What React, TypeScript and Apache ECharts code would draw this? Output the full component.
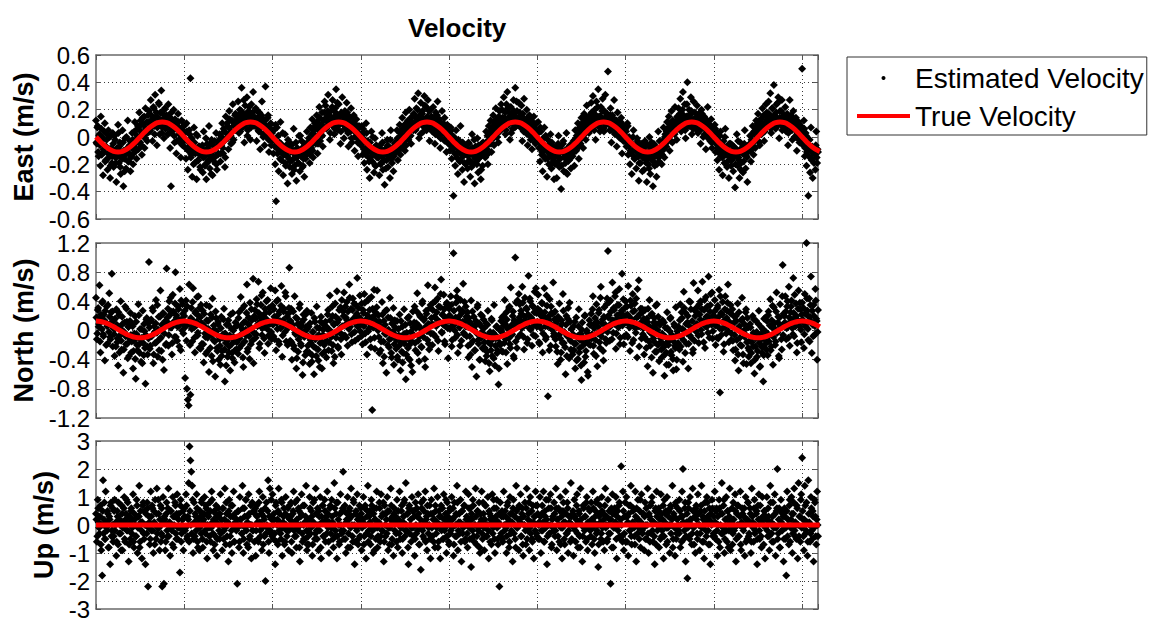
import React, { useEffect, useRef } from "react";
import * as echarts from "echarts";

// ---- sampling / axes ----
// Estimated velocity is output at 2 Hz: stream A at whole seconds, stream B at half seconds.
const SAMPLE_STEP_S = 1;
const STREAM_B_OFFSET_S = 0.5;
const TRUE_STEP_S = 5; // true velocity sample spacing (s)
const X_MAX = 818;
const X_TICK = 100;

const TITLE = "Velocity";
const PANEL_NAMES = ["East (m/s)", "North (m/s)", "Up (m/s)"];
const Y_MIN = [-0.6, -1.2, -3];
const Y_MAX = [0.6, 1.2, 3];
const Y_STEP = [0.2, 0.4, 1];
const LEGEND_EST = "Estimated Velocity";
const LEGEND_TRUE = "True Velocity";

// ---- estimated velocities, stream A ----
const EAST_EST_A = [
  0.12, -0.05, 0.08, -0.14, 0.02, -0.21, 0.06, 0.0, -0.28, -0.11, 0.10, -0.17, -0.02, -0.24, 0.05, -0.09, -0.30, -0.12, -0.19, 0.03,
  -0.22, 0.01, -0.15, -0.33, -0.08, 0.09, -0.19, -0.04, -0.27, -0.12, 0.05, -0.36, -0.16, -0.01, -0.23, -0.10, 0.12, -0.18, -0.06, -0.25,
  -0.14, 0.03, -0.20, -0.07, 0.11, -0.02, -0.16, 0.06, -0.09, 0.18, -0.04, 0.09, -0.13, 0.14, 0.01, -0.08, 0.21, 0.05, -0.03, 0.16,
  0.19, 0.04, 0.27, 0.12, -0.03, 0.22, 0.08, 0.31, 0.15, -0.06, 0.10, 0.25, 0.02, 0.18, 0.34, 0.07, 0.13, -0.01, 0.21, 0.09,
  0.16, 0.02, 0.24, 0.09, -0.08, -0.36, 0.13, 0.05, 0.20, -0.04, 0.11, -0.12, 0.07, 0.17, -0.02, 0.03, -0.15, 0.12, -0.06, 0.08,
  -0.03, 0.09, -0.16, 0.04, -0.24, -0.08, 0.02, 0.43, -0.13, -0.29, -0.05, 0.07, -0.19, -0.10, -0.31, 0.01, -0.17, -0.07, -0.22, -0.12,
  -0.09, -0.26, 0.04, -0.14, -0.20, -0.31, -0.05, -0.17, 0.08, -0.23, -0.11, -0.02, -0.28, -0.15, -0.07, -0.19, 0.03, -0.24, -0.13, -0.04,
  0.02, -0.18, -0.06, 0.10, -0.12, 0.04, -0.22, 0.15, -0.01, 0.08, -0.09, 0.19, 0.03, -0.05, 0.12, 0.24, -0.02, 0.09, 0.17, 0.06,
  0.14, 0.26, 0.03, 0.20, 0.11, 0.36, 0.07, 0.17, -0.04, 0.23, 0.13, 0.29, 0.05, 0.19, 0.10, -0.02, 0.24, 0.15, 0.33, 0.08,
  0.09, 0.21, -0.03, 0.14, 0.05, 0.18, -0.09, 0.11, 0.26, 0.02, 0.13, -0.06, 0.37, 0.08, 0.0, 0.16, -0.11, 0.06, 0.10, -0.03,
  0.05, -0.12, -0.02, -0.20, -0.47, 0.07, -0.09, -0.25, -0.04, 0.11, -0.17, -0.07, -0.28, -0.13, 0.02, -0.21, -0.10, -0.34, -0.06, -0.16,
  -0.18, -0.05, -0.27, -0.11, 0.06, -0.21, -0.14, -0.32, -0.08, -0.19, 0.01, -0.25, -0.12, -0.03, -0.22, -0.16, -0.29, -0.06, -0.13, 0.04,
  -0.11, -0.01, -0.19, 0.07, -0.08, 0.13, -0.15, 0.02, 0.10, -0.05, 0.16, -0.12, 0.05, 0.22, -0.03, 0.08, 0.18, -0.07, 0.12, 0.26,
  0.23, 0.06, 0.15, 0.31, 0.11, -0.02, 0.19, 0.09, 0.27, 0.14, 0.02, 0.21, 0.35, 0.12, 0.05, 0.24, 0.16, -0.05, 0.18, 0.29,
  0.12, -0.01, 0.19, 0.07, 0.25, 0.10, -0.07, 0.15, 0.04, 0.21, -0.04, 0.09, 0.16, -0.10, 0.06, 0.13, 0.0, -0.14, 0.08, 0.02,
  -0.06, 0.08, -0.13, 0.03, -0.19, -0.09, 0.10, -0.24, -0.03, -0.15, -0.30, -0.08, 0.04, -0.18, -0.11, -0.26, -0.01, -0.21, -0.14, -0.09,
  -0.15, -0.28, -0.06, -0.19, 0.03, -0.24, -0.11, -0.35, -0.09, -0.17, -0.02, -0.22, -0.13, -0.30, 0.05, -0.16, -0.08, -0.25, -0.12, -0.04,
  -0.09, 0.05, -0.17, -0.04, 0.09, -0.13, 0.01, 0.14, -0.07, 0.06, -0.10, 0.18, 0.03, 0.11, -0.02, 0.20, 0.08, -0.05, 0.15, 0.10,
  0.17, 0.28, 0.05, 0.21, 0.12, 0.32, -0.01, 0.16, 0.25, 0.09, 0.19, 0.04, 0.30, 0.13, 0.22, 0.07, 0.27, 0.11, -0.03, 0.20,
  0.15, 0.04, 0.22, 0.11, -0.05, 0.18, 0.08, 0.26, 0.01, 0.13, -0.08, 0.10, 0.19, 0.03, -0.02, 0.14, 0.06, -0.11, 0.09, -0.04,
  0.03, -0.10, 0.07, -0.16, 0.01, -0.43, -0.07, -0.21, 0.05, -0.12, -0.27, -0.04, -0.18, 0.08, -0.09, -0.24, -0.14, -0.33, -0.06, -0.20,
  -0.12, -0.23, -0.04, -0.17, -0.29, -0.09, 0.02, -0.20, -0.14, -0.34, -0.07, -0.18, -0.01, -0.26, -0.11, -0.15, -0.31, -0.05, -0.21, -0.10,
  -0.06, -0.15, 0.04, -0.09, -0.20, 0.08, -0.02, 0.12, -0.11, 0.03, 0.16, -0.06, 0.09, 0.21, 0.0, 0.13, -0.04, 0.19, 0.07, 0.24,
  0.20, 0.09, 0.29, 0.14, 0.02, 0.24, 0.33, 0.10, 0.18, -0.02, 0.22, 0.13, 0.06, 0.27, 0.16, 0.36, 0.08, 0.19, 0.12, 0.25,
  0.18, 0.07, 0.23, -0.03, 0.14, 0.28, 0.05, 0.11, 0.20, -0.06, 0.09, 0.16, 0.01, 0.12, -0.09, 0.07, 0.15, 0.0, -0.05, 0.10,
  -0.01, 0.11, -0.08, -0.18, 0.04, -0.13, -0.25, -0.05, 0.07, -0.16, -0.09, -0.29, -0.02, -0.20, -0.12, 0.02, -0.23, -0.15, -0.07, -0.31,
  -0.20, -0.08, -0.30, -0.13, 0.01, -0.22, -0.16, -0.38, -0.10, -0.05, -0.25, -0.14, -0.19, 0.03, -0.27, -0.11, -0.17, -0.06, -0.23, -0.13,
  -0.14, -0.03, -0.21, 0.05, -0.10, -0.01, 0.10, -0.16, 0.06, -0.05, 0.14, 0.02, -0.08, 0.17, 0.08, -0.02, 0.23, 0.11, 0.04, 0.15,
  0.16, 0.25, 0.07, 0.30, 0.13, 0.20, -0.02, 0.26, 0.10, 0.35, 0.15, 0.04, 0.22, 0.12, 0.28, 0.06, 0.19, 0.31, 0.09, 0.17,
  0.48, 0.13, 0.05, 0.21, -0.04, 0.16, 0.09, 0.27, 0.02, 0.12, -0.07, 0.18, 0.06, 0.10, -0.01, 0.14, -0.12, 0.04, 0.08, -0.03,
  0.06, -0.07, 0.10, -0.13, 0.0, -0.20, -0.04, -0.27, -0.10, 0.05, -0.16, -0.08, -0.23, -0.01, -0.14, -0.32, -0.06, -0.19, -0.11, -0.25,
  -0.10, -0.24, -0.03, -0.17, -0.33, -0.12, -0.20, 0.0, -0.27, -0.08, -0.15, -0.36, -0.05, -0.21, -0.11, -0.29, -0.14, 0.04, -0.18, -0.09,
  -0.12, -0.20, -0.03, 0.07, -0.15, 0.02, -0.07, 0.11, -0.01, 0.15, -0.10, 0.06, 0.19, -0.04, 0.10, 0.03, 0.22, 0.08, -0.02, 0.14,
  0.21, 0.10, 0.28, 0.04, 0.17, 0.33, 0.12, 0.24, -0.01, 0.15, 0.40, 0.08, 0.20, 0.13, 0.29, 0.02, 0.18, 0.26, 0.11, 0.06,
  0.14, 0.23, 0.03, 0.17, 0.08, -0.05, 0.20, 0.11, 0.0, 0.15, 0.06, -0.09, 0.12, 0.22, 0.01, 0.09, -0.03, 0.13, -0.08, 0.05,
  -0.02, 0.09, -0.11, 0.04, -0.17, -0.06, -0.24, 0.01, -0.14, -0.08, -0.28, -0.03, -0.19, 0.06, -0.12, -0.22, -0.09, -0.30, -0.15, -0.05,
  -0.17, -0.06, -0.25, -0.13, -0.37, -0.09, 0.02, -0.21, -0.15, -0.30, -0.04, -0.19, -0.11, -0.26, -0.08, 0.05, -0.23, -0.14, -0.33, -0.07,
  -0.10, 0.01, -0.18, -0.05, 0.08, -0.13, 0.04, -0.08, 0.12, -0.02, 0.17, 0.06, -0.06, 0.13, 0.02, 0.21, 0.09, -0.03, 0.16, 0.24,
  0.18, 0.08, 0.26, 0.14, 0.32, 0.03, 0.21, 0.11, 0.38, 0.16, 0.06, 0.24, 0.13, 0.29, -0.01, 0.19, 0.10, 0.27, 0.15, 0.07,
  0.12, 0.22, 0.04, 0.17, -0.06, 0.10, 0.27, 0.07, 0.15, -0.02, 0.19, 0.09, 0.0, 0.14, -0.10, 0.05, 0.11, -0.04, 0.08, 0.01,
  0.50, -0.06, 0.12, -0.14, 0.03, -0.21, -0.09, -0.43, -0.02, -0.26, 0.07, -0.17, -0.30, -0.08, -0.12, -0.24, 0.04, -0.19, -0.11, -0.07,
];

const EAST_EST_B = [
  -0.04, 0.07, -0.11, 0.01, -0.06, 0.15, -0.13, -0.02, -0.09, 0.04, -0.18, -0.07, 0.02, -0.12, -0.15, 0.0, -0.21, -0.08, -0.14, -0.05,
  -0.13, -0.02, -0.19, -0.09, -0.14, 0.03, -0.07, -0.22, -0.11, -0.16, -0.04, -0.10, -0.25, -0.13, 0.0, -0.08, -0.18, -0.12, -0.03, -0.15,
  -0.08, -0.02, -0.12, 0.04, -0.05, -0.10, 0.01, 0.08, -0.03, 0.05, 0.12, -0.06, 0.02, 0.09, 0.15, -0.01, 0.06, 0.11, 0.03, 0.10,
  0.11, 0.05, 0.16, 0.08, 0.13, 0.21, 0.02, 0.10, 0.18, 0.07, 0.14, 0.24, 0.09, 0.12, 0.03, 0.17, 0.11, 0.20, 0.06, 0.15,
  0.12, 0.07, 0.15, 0.03, 0.10, 0.18, 0.05, 0.09, 0.01, 0.13, 0.06, -0.03, 0.08, 0.11, 0.02, 0.05, -0.05, 0.07, 0.0, 0.04,
  0.03, -0.08, 0.10, -0.03, -0.10, 0.05, -0.06, -0.15, -0.01, -0.09, -0.20, -0.04, -0.12, 0.02, -0.10, -0.17, -0.07, -0.13, -0.24, -0.09,
  -0.06, -0.15, -0.10, -0.21, -0.01, -0.12, -0.08, -0.18, -0.13, -0.05, -0.27, -0.11, -0.16, -0.09, -0.03, -0.14, -0.20, -0.07, -0.12, -0.02,
  -0.05, -0.12, 0.0, -0.08, 0.06, -0.03, -0.15, 0.03, 0.10, -0.01, 0.07, 0.13, 0.01, 0.04, -0.04, 0.11, 0.08, 0.16, 0.05, 0.12,
  0.09, 0.16, 0.12, 0.04, 0.19, 0.10, 0.14, 0.27, 0.08, 0.13, 0.17, 0.01, 0.11, 0.22, 0.15, 0.07, 0.12, 0.18, 0.09, 0.14,
  0.14, 0.08, 0.19, 0.11, 0.04, 0.13, 0.07, 0.16, 0.10, 0.0, 0.09, 0.12, 0.03, 0.07, 0.14, -0.02, 0.05, 0.09, -0.06, 0.03,
  -0.02, 0.05, -0.07, 0.09, -0.04, -0.12, 0.01, -0.08, -0.16, -0.05, -0.11, 0.03, -0.13, -0.09, -0.19, -0.06, -0.14, -0.02, -0.10, -0.22,
  -0.11, -0.06, -0.17, -0.10, -0.24, -0.13, -0.04, -0.15, -0.09, -0.19, -0.12, 0.01, -0.14, -0.08, -0.21, -0.11, -0.05, -0.16, -0.10, -0.07,
  -0.09, -0.03, -0.13, -0.06, 0.02, -0.10, 0.05, -0.02, 0.08, 0.0, 0.11, -0.05, 0.06, 0.14, 0.03, 0.09, 0.01, 0.12, 0.18, 0.07,
  0.13, 0.07, 0.19, 0.10, 0.16, 0.03, 0.12, 0.22, 0.09, 0.14, 0.06, 0.18, 0.11, 0.25, 0.08, 0.15, 0.12, 0.04, 0.17, 0.10,
  0.09, 0.15, 0.06, 0.12, 0.18, 0.03, 0.10, 0.07, 0.14, -0.01, 0.08, 0.11, 0.04, 0.0, 0.09, 0.06, -0.04, 0.03, 0.07, -0.02,
  0.01, -0.05, 0.06, -0.09, -0.02, -0.13, 0.03, -0.07, -0.11, -0.18, -0.04, -0.10, -0.14, 0.0, -0.08, -0.12, -0.21, -0.06, -0.15, -0.10,
  -0.12, -0.08, -0.20, -0.14, -0.04, -0.11, -0.17, -0.09, -0.23, -0.13, -0.06, -0.16, -0.10, -0.02, -0.12, -0.19, -0.08, -0.14, -0.05, -0.11,
  -0.07, -0.01, -0.10, -0.04, 0.03, -0.08, 0.0, 0.06, -0.03, 0.09, 0.02, -0.06, 0.07, 0.12, 0.04, 0.10, 0.01, 0.14, 0.08, 0.05,
  0.10, 0.15, 0.06, 0.12, 0.20, 0.09, 0.14, 0.02, 0.11, 0.17, 0.08, 0.13, 0.23, 0.10, 0.05, 0.15, 0.12, 0.19, 0.07, 0.13,
  0.11, 0.06, 0.14, 0.09, 0.02, 0.12, 0.16, 0.05, 0.08, 0.11, -0.01, 0.07, 0.03, 0.10, 0.05, -0.03, 0.06, 0.01, 0.04, -0.05,
  0.02, -0.06, 0.05, -0.03, -0.09, 0.0, -0.12, -0.05, -0.15, -0.08, -0.02, -0.11, -0.17, -0.07, -0.13, -0.04, -0.10, -0.19, -0.12, -0.08,
  -0.09, -0.14, -0.05, -0.18, -0.11, -0.22, -0.08, -0.13, -0.02, -0.16, -0.10, -0.20, -0.12, -0.06, -0.15, -0.09, -0.24, -0.11, -0.04, -0.13,
  -0.10, -0.04, -0.07, 0.01, -0.12, -0.02, 0.04, -0.05, 0.07, 0.02, -0.01, 0.10, 0.05, 0.13, 0.0, 0.08, 0.15, 0.04, 0.11, 0.09,
  0.14, 0.08, 0.12, 0.18, 0.05, 0.11, 0.21, 0.09, 0.15, 0.13, 0.03, 0.17, 0.10, 0.19, 0.07, 0.12, 0.26, 0.09, 0.14, 0.11,
  0.10, 0.14, 0.07, 0.17, 0.04, 0.11, 0.08, 0.13, 0.02, 0.09, 0.12, 0.05, -0.02, 0.08, 0.04, 0.10, 0.01, -0.04, 0.06, 0.02,
  -0.03, 0.04, -0.08, 0.07, -0.05, -0.11, -0.01, -0.14, -0.07, 0.01, -0.10, -0.16, -0.06, -0.12, -0.09, -0.20, -0.04, -0.13, -0.17, -0.08,
  -0.14, -0.09, -0.19, -0.05, -0.12, -0.16, -0.07, -0.21, -0.11, -0.03, -0.15, -0.10, -0.26, -0.13, -0.08, -0.17, -0.11, -0.06, -0.14, -0.09,
  -0.06, -0.11, -0.02, -0.08, 0.01, -0.04, 0.06, -0.07, 0.03, 0.09, -0.01, 0.05, 0.11, 0.02, 0.08, 0.14, 0.06, 0.10, 0.03, 0.13,
  0.12, 0.18, 0.08, 0.14, 0.05, 0.11, 0.16, 0.09, 0.22, 0.13, 0.07, 0.15, 0.10, 0.19, 0.12, 0.04, 0.14, 0.09, 0.17, 0.11,
  0.13, 0.09, 0.16, 0.05, 0.11, 0.14, 0.07, 0.10, 0.03, 0.12, 0.06, 0.09, 0.0, 0.08, 0.11, 0.02, 0.06, -0.03, 0.05, 0.01,
  0.04, -0.03, 0.08, -0.07, -0.01, -0.10, -0.05, -0.13, 0.0, -0.09, -0.16, -0.06, -0.11, -0.03, -0.14, -0.19, -0.08, -0.12, -0.05, -0.15,
  -0.08, -0.15, -0.11, -0.19, -0.06, -0.13, -0.23, -0.10, -0.16, -0.04, -0.12, -0.18, -0.09, -0.14, -0.07, -0.20, -0.11, -0.15, -0.03, -0.10,
  -0.07, -0.13, -0.03, -0.09, 0.0, -0.05, 0.04, -0.02, 0.07, 0.01, 0.10, -0.03, 0.05, 0.12, 0.08, 0.02, 0.11, 0.06, 0.15, 0.09,
  0.11, 0.17, 0.07, 0.13, 0.20, 0.09, 0.15, 0.05, 0.12, 0.24, 0.10, 0.16, 0.08, 0.14, 0.19, 0.11, 0.06, 0.13, 0.18, 0.09,
  0.12, 0.08, 0.15, 0.10, 0.05, 0.13, 0.17, 0.07, 0.11, 0.02, 0.09, 0.05, 0.12, -0.01, 0.06, 0.03, 0.08, -0.04, 0.04, 0.01,
  -0.01, 0.06, -0.05, 0.02, -0.08, -0.03, -0.12, 0.04, -0.09, -0.15, -0.06, -0.11, 0.0, -0.13, -0.08, -0.18, -0.10, -0.05, -0.14, -0.21,
  -0.10, -0.16, -0.07, -0.13, -0.20, -0.09, -0.14, -0.03, -0.17, -0.11, -0.24, -0.08, -0.12, -0.18, -0.05, -0.13, -0.09, -0.15, -0.11, -0.06,
  -0.05, -0.10, -0.02, 0.02, -0.07, 0.04, -0.03, 0.07, 0.0, 0.10, 0.03, -0.04, 0.08, 0.13, 0.05, 0.09, 0.16, 0.04, 0.11, 0.07,
  0.13, 0.08, 0.17, 0.11, 0.06, 0.15, 0.21, 0.10, 0.14, 0.07, 0.18, 0.12, 0.25, 0.09, 0.14, 0.11, 0.19, 0.05, 0.13, 0.16,
  0.10, 0.15, 0.07, 0.13, 0.03, 0.11, 0.08, 0.16, 0.05, 0.09, 0.12, 0.0, 0.07, 0.10, 0.03, 0.06, -0.02, 0.04, 0.08, -0.01,
  0.02, -0.04, 0.06, -0.08, 0.01, -0.11, -0.05, -0.14, -0.02, -0.09, -0.16, -0.07, -0.12, -0.19, -0.10, -0.06, -0.15, -0.09, -0.13, -0.08,
];

const NORTH_EST_A = [
  0.45, -0.12, 0.28, 0.05, 0.62, -0.30, 0.17, 0.38, -0.05, 0.22, -0.41, 0.11, 0.33, -0.18, 0.08, 0.51, -0.09, 0.25, 0.78, -0.22,
  0.14, -0.35, 0.03, 0.29, -0.16, -0.48, 0.21, -0.07, 0.40, -0.26, 0.09, -0.58, -0.02, 0.33, -0.19, 0.12, -0.38, 0.05, -0.11, 0.24,
  -0.30, 0.08, -0.52, -0.14, 0.20, -0.66, -0.05, -0.27, 0.36, -0.19, 0.02, -0.43, -0.10, 0.27, -0.34, -0.01, -0.73, 0.15, -0.22, 0.10,
  0.94, -0.25, 0.13, -0.08, 0.31, -0.45, 0.06, -0.17, 0.42, -0.03, -0.36, 0.19, -0.12, 0.55, -0.28, 0.01, 0.24, -0.54, 0.09, -0.20,
  0.85, 0.18, -0.21, 0.40, 0.04, 0.26, -0.33, 0.49, 0.12, -0.09, 0.80, 0.21, -0.14, 0.33, 0.07, 0.57, -0.27, 0.15, 0.36, -0.04,
  0.20, -0.65, 0.41, -0.80, -0.95, -1.03, 0.09, -0.88, 0.31, -0.15, 0.58, 0.04, -0.30, 0.26, 0.12, -0.07, 0.47, -0.24, 0.18, 0.35,
  -0.18, 0.27, -0.44, 0.06, -0.09, 0.35, -0.29, 0.13, -0.57, -0.02, 0.22, -0.35, 0.44, -0.13, 0.01, -0.63, 0.17, -0.24, 0.09, -0.40,
  -0.12, -0.47, 0.19, -0.28, -0.05, 0.30, -0.70, -0.17, 0.08, -0.36, 0.14, -0.22, -0.55, 0.03, -0.31, 0.24, -0.09, -0.44, 0.11, -0.26,
  0.07, -0.32, 0.25, -0.11, 0.46, -0.20, 0.01, -0.50, 0.34, 0.12, -0.07, 0.63, -0.25, 0.18, -0.39, 0.05, 0.29, -0.14, 0.71, -0.03,
  0.28, -0.10, 0.43, 0.06, 0.67, -0.24, 0.19, 0.35, -0.06, 0.52, 0.13, -0.31, 0.24, 0.40, 0.02, -0.18, 0.31, 0.09, 0.58, -0.12,
  0.34, -0.08, 0.19, 0.55, -0.27, 0.10, 0.42, -0.15, 0.26, 0.03, 0.61, -0.36, 0.14, 0.30, -0.02, 0.47, 0.07, -0.20, 0.23, 0.86,
  -0.14, 0.30, -0.40, 0.08, -0.21, 0.47, -0.05, -0.52, 0.16, -0.29, 0.01, 0.36, -0.18, 0.11, -0.61, 0.22, -0.09, -0.34, 0.05, 0.27,
  -0.21, 0.05, -0.46, -0.13, 0.24, -0.34, -0.02, -0.60, 0.12, -0.24, 0.33, -0.08, -0.41, 0.03, -0.17, 0.19, -0.52, -0.06, 0.08, -0.29,
  0.12, -0.37, 0.02, 0.28, -0.16, 0.48, -0.05, -0.28, 0.20, -0.45, 0.09, 0.37, -0.10, 0.54, -0.22, 0.15, -0.03, 0.32, -0.33, 0.06,
  0.26, 0.52, -0.07, 0.18, 0.39, -0.21, 0.10, 0.63, 0.05, 0.30, -0.16, 0.44, 0.13, -0.02, 0.35, 0.21, 0.72, -0.11, 0.16, 0.48,
  0.09, 0.37, -0.19, 0.24, 0.50, -0.04, 0.15, -0.33, 0.41, 0.02, 0.28, -0.12, 0.46, -1.09, 0.19, 0.56, -0.25, 0.11, 0.32, 0.07,
  0.21, -0.31, 0.06, -0.15, 0.39, -0.45, 0.13, -0.04, 0.27, -0.58, 0.0, 0.18, -0.23, 0.45, -0.11, -0.37, 0.09, 0.31, -0.19, 0.04,
  -0.25, 0.13, -0.40, -0.07, 0.22, -0.55, -0.16, 0.05, -0.31, 0.29, -0.12, -0.67, -0.03, 0.17, -0.38, -0.20, 0.10, -0.48, -0.09, 0.26,
  -0.06, 0.33, -0.27, 0.10, 0.51, -0.14, -0.42, 0.21, 0.02, -0.23, 0.40, -0.09, 0.16, -0.50, 0.27, -0.01, 0.62, -0.18, 0.08, 0.35,
  0.17, -0.20, 0.38, 0.08, 0.59, -0.09, 0.25, 0.44, -0.28, 0.12, 0.32, 0.70, -0.03, 0.21, 0.49, -0.15, 0.06, 0.36, 0.14, -0.38,
  0.30, 0.02, 0.47, -0.22, 0.16, 1.06, 0.08, -0.10, 0.38, 0.55, -0.31, 0.19, 0.04, 0.42, -0.14, 0.27, 0.64, -0.05, 0.13, 0.33,
  -0.08, 0.25, -0.37, 0.12, -0.19, 0.41, -0.50, 0.03, 0.19, -0.27, 0.07, -0.63, 0.32, -0.13, 0.10, -0.40, 0.22, -0.02, -0.24, 0.15,
  -0.16, -0.42, 0.10, -0.29, 0.27, -0.06, -0.56, -0.19, 0.16, -0.35, -0.03, 0.35, -0.48, -0.11, 0.06, -0.27, -0.74, 0.01, -0.20, 0.13,
  0.18, -0.29, 0.07, 0.42, -0.12, 0.25, -0.46, 0.03, 0.31, -0.19, 0.59, -0.06, 0.20, -0.35, 0.14, 1.00, 0.38, -0.24, 0.10, 0.50,
  0.36, -0.05, 0.23, 0.60, 0.09, -0.26, 0.45, 0.14, 0.29, -0.12, 0.75, 0.03, 0.40, 0.18, -0.21, 0.33, 0.07, 0.53, -0.08, 0.24,
  0.12, 0.49, -0.16, 0.27, 0.03, 0.38, -0.30, 0.20, 0.58, 0.06, -0.09, 0.34, -0.90, 0.15, 0.43, -0.21, 0.24, 0.01, 0.66, -0.04,
  0.26, -0.22, 0.04, -0.46, 0.15, 0.37, -0.11, -0.30, 0.09, 0.50, -0.17, -0.03, -0.60, 0.20, -0.08, 0.31, -0.38, 0.12, -0.26, 0.02,
  -0.33, 0.06, -0.18, -0.52, 0.18, -0.09, -0.39, 0.29, -0.24, -0.04, -0.68, 0.11, -0.15, -0.44, 0.21, -0.28, 0.0, -0.57, -0.12, 0.14,
  -0.20, 0.23, -0.05, 0.47, -0.32, 0.10, -0.13, 0.36, -0.49, 0.05, 0.28, -0.24, 0.60, -0.02, 0.15, -0.41, 0.32, 0.08, -0.17, 0.44,
  1.09, 0.21, -0.14, 0.41, 0.10, 0.66, -0.03, 0.28, 0.47, -0.25, 0.16, 0.35, 0.04, 0.57, -0.10, 0.24, 0.78, 0.12, -0.19, 0.31,
  0.40, -0.06, 0.22, 0.61, 0.08, -0.28, 0.34, 0.15, 0.50, -0.13, 0.27, 0.03, 0.44, -0.37, 0.19, 0.69, 0.06, 0.30, -0.11, 0.25,
  0.03, -0.33, 0.28, -0.12, 0.16, -0.49, 0.07, 0.42, -0.21, -0.04, 0.23, -0.58, 0.11, -0.16, 0.34, -0.29, 0.01, 0.19, -0.42, 0.08,
  -0.11, -0.37, 0.14, -0.23, -0.62, 0.04, -0.30, 0.25, -0.15, -0.47, -0.01, 0.18, -0.34, -0.08, -0.55, 0.09, -0.21, 0.32, -0.40, -0.05,
  0.05, -0.26, 0.36, -0.09, 0.17, -0.43, 0.53, -0.01, 0.24, -0.18, 0.11, -0.52, 0.40, -0.07, 0.29, 0.02, -0.31, 0.65, -0.14, 0.20,
  0.31, 0.08, 0.55, -0.17, 0.22, 0.40, -0.05, 0.67, 0.13, 0.28, -0.24, 0.46, 0.05, 0.19, 0.74, -0.10, 0.35, 0.11, 0.52, -0.01,
  0.18, 0.42, -0.20, 0.09, 0.31, -0.11, 0.56, -0.85, 0.24, 0.02, 0.39, -0.29, 0.14, 0.47, -0.04, 0.27, 0.63, -0.16, 0.08, 0.35,
  -0.04, 0.29, -0.27, 0.11, -0.41, 0.20, -0.13, 0.37, -0.55, 0.06, -0.20, 0.14, 0.45, -0.33, 0.0, -0.09, 0.25, -0.46, 0.17, -0.24,
  -0.27, 0.09, -0.45, -0.16, 0.20, -0.03, -0.59, -0.22, 0.13, -0.36, -0.07, 0.27, -0.50, -0.13, 0.04, -0.31, -0.70, 0.16, -0.19, -0.02,
  0.13, -0.34, 0.26, -0.07, 0.43, -0.22, 0.04, -0.47, 0.32, 0.10, -0.15, 0.52, -0.03, 0.19, -0.38, 0.36, 0.07, -0.26, 0.90, 0.23,
  0.20, 0.47, -0.12, 0.33, 0.09, 0.60, -0.21, 0.25, 0.41, 0.03, 0.72, -0.08, 0.18, 0.37, -0.30, 0.14, 0.55, 0.06, 0.29, -0.16,
  0.38, 0.11, -0.24, 0.50, 0.05, 1.20, 0.27, -0.13, 0.44, 0.19, 0.74, -0.31, 0.08, 0.35, -0.06, 0.57, 0.16, -0.40, 0.28, 0.10,
];

const NORTH_EST_B = [
  0.18, -0.04, 0.31, 0.09, -0.15, 0.22, 0.02, 0.40, -0.08, 0.14, 0.27, -0.20, 0.06, 0.35, -0.02, 0.19, -0.12, 0.11, 0.26, 0.03,
  -0.05, 0.16, -0.22, 0.08, -0.11, 0.25, -0.30, 0.03, -0.14, 0.19, -0.02, -0.26, 0.11, -0.08, 0.30, -0.18, 0.05, -0.35, 0.13, -0.06,
  -0.15, 0.06, -0.28, -0.04, -0.39, 0.12, -0.20, -0.09, 0.21, -0.31, -0.12, 0.02, -0.45, -0.17, 0.09, -0.24, -0.06, 0.17, -0.33, -0.11,
  0.04, -0.21, 0.15, -0.07, 0.27, -0.33, -0.02, 0.10, -0.16, 0.35, 0.01, -0.27, 0.19, -0.10, 0.08, -0.40, 0.23, -0.04, 0.13, -0.18,
  0.12, 0.30, -0.06, 0.21, 0.45, 0.04, -0.17, 0.26, 0.10, 0.37, -0.09, 0.18, 0.05, 0.29, -0.22, 0.14, 0.41, 0.0, 0.23, 0.08,
  0.27, 0.05, -0.14, 0.33, 0.11, 0.63, -0.20, 0.17, 0.02, 0.39, 0.13, -0.10, 0.24, 0.07, 0.46, -0.03, 0.20, 0.31, -0.25, 0.10,
  0.09, -0.19, 0.23, -0.04, -0.32, 0.14, -0.10, 0.02, 0.33, -0.24, -0.06, 0.18, -0.42, 0.07, -0.15, 0.26, -0.01, -0.28, 0.12, -0.09,
  -0.21, 0.03, -0.35, -0.10, 0.15, -0.26, -0.04, -0.48, -0.14, 0.09, -0.30, -0.07, 0.22, -0.19, -0.38, 0.0, -0.13, -0.27, 0.06, -0.16,
  -0.12, 0.17, -0.24, 0.06, -0.05, 0.30, -0.37, 0.11, -0.15, 0.01, 0.24, -0.29, 0.09, -0.08, 0.38, -0.19, 0.14, -0.02, -0.45, 0.20,
  0.16, -0.05, 0.36, 0.09, 0.24, -0.18, 0.13, 0.48, 0.03, 0.20, -0.11, 0.30, 0.07, 0.15, 0.42, -0.07, 0.25, 0.11, -0.02, 0.34,
  0.08, 0.29, -0.12, 0.17, 0.40, 0.02, 0.22, -0.19, 0.13, 0.34, 0.05, -0.07, 0.26, 0.10, 0.52, -0.15, 0.19, 0.03, 0.31, 0.12,
  0.13, -0.16, 0.04, 0.26, -0.25, -0.03, 0.18, -0.38, 0.09, -0.12, 0.31, -0.07, -0.21, 0.06, -0.44, 0.15, -0.01, 0.22, -0.29, 0.02,
  -0.08, -0.30, 0.10, -0.17, -0.43, -0.02, -0.22, 0.17, -0.12, -0.35, 0.04, -0.26, -0.06, -0.50, 0.12, -0.15, -0.32, 0.01, -0.20, -0.09,
  0.06, -0.14, 0.22, -0.27, 0.01, 0.14, -0.09, 0.33, -0.20, 0.08, -0.36, 0.19, -0.03, 0.11, -0.24, 0.28, 0.03, -0.12, 0.42, -0.06,
  0.20, 0.07, 0.33, -0.10, 0.14, 0.26, 0.02, 0.45, 0.11, -0.05, 0.28, 0.16, 0.37, -0.14, 0.09, 0.23, 0.05, 0.31, 0.18, -0.01,
  0.15, -0.07, 0.28, 0.06, 0.38, -0.16, 0.12, 0.21, -0.01, 0.44, 0.09, -0.23, 0.17, 0.30, 0.04, -0.10, 0.25, 0.13, 0.55, 0.0,
  -0.09, 0.12, -0.27, 0.04, 0.22, -0.15, -0.36, 0.08, -0.05, 0.28, -0.20, 0.01, -0.12, 0.17, -0.31, 0.10, -0.02, -0.47, 0.14, -0.07,
  -0.13, -0.36, 0.02, -0.21, -0.08, 0.13, -0.29, -0.44, -0.05, -0.18, 0.08, -0.33, -0.11, -0.24, 0.19, -0.40, -0.02, -0.15, -0.57, 0.04,
  0.11, -0.17, 0.03, 0.26, -0.31, 0.07, -0.08, 0.19, -0.22, 0.37, -0.01, 0.14, -0.39, 0.05, 0.23, -0.13, 0.09, -0.26, 0.31, -0.04,
  0.09, 0.28, -0.05, 0.19, 0.40, 0.06, 0.15, -0.14, 0.33, 0.11, 0.50, -0.02, 0.22, 0.08, 0.29, -0.19, 0.17, 0.38, 0.03, 0.13,
  0.21, 0.04, 0.35, -0.13, 0.10, 0.27, 0.0, 0.18, 0.46, -0.06, 0.14, 0.30, -0.21, 0.08, 0.24, 0.12, -0.03, 0.39, 0.06, 0.19,
  0.05, -0.21, 0.17, -0.08, -0.33, 0.09, 0.26, -0.14, 0.01, -0.27, 0.13, -0.04, 0.35, -0.18, -0.40, 0.07, -0.10, 0.20, -0.25, 0.03,
  -0.24, -0.07, -0.35, 0.08, -0.16, -0.45, -0.02, -0.27, 0.14, -0.12, -0.38, -0.05, -0.21, 0.05, -0.31, -0.10, -0.52, -0.17, 0.01, -0.28,
  -0.03, 0.20, -0.17, 0.09, -0.30, 0.15, 0.02, -0.11, 0.33, -0.24, 0.07, -0.05, 0.26, -0.38, 0.12, -0.15, 0.04, 0.41, -0.09, 0.18,
  0.14, 0.27, 0.03, 0.38, -0.09, 0.19, 0.08, 0.31, -0.17, 0.22, 0.12, 0.44, 0.01, 0.16, 0.34, -0.06, 0.25, 0.10, 0.58, 0.05,
  0.30, 0.08, -0.18, 0.21, 0.13, 0.37, -0.04, 0.16, 0.25, -0.12, 0.48, 0.06, 0.19, -0.27, 0.10, 0.33, 0.02, 0.23, -0.08, 0.15,
  -0.12, 0.10, -0.29, 0.19, -0.06, 0.03, -0.40, 0.14, -0.17, 0.27, -0.02, -0.23, 0.08, -0.35, 0.16, -0.09, 0.38, -0.14, 0.02, -0.28,
  -0.05, -0.27, 0.12, -0.18, -0.41, -0.08, 0.06, -0.30, -0.13, -0.48, 0.01, -0.21, -0.10, 0.20, -0.36, -0.16, -0.03, -0.62, -0.19, 0.08,
  0.08, -0.11, 0.29, -0.21, 0.03, 0.17, -0.35, 0.12, -0.04, 0.24, -0.16, 0.45, -0.08, 0.10, -0.28, 0.19, 0.01, -0.12, 0.36, -0.02,
  0.18, 0.39, 0.05, 0.26, -0.12, 0.14, 0.31, 0.09, 0.52, -0.04, 0.21, 0.11, 0.35, -0.19, 0.16, 0.27, 0.07, 0.43, -0.08, 0.20,
  0.12, 0.33, -0.09, 0.20, 0.04, 0.41, 0.15, -0.17, 0.26, 0.08, 0.37, -0.03, 0.18, 0.57, 0.06, -0.22, 0.23, 0.11, 0.30, -0.05,
  0.16, -0.09, 0.07, -0.24, 0.12, 0.30, -0.15, -0.02, 0.21, -0.37, 0.04, -0.11, 0.17, -0.29, 0.09, 0.36, -0.20, -0.05, 0.11, -0.16,
  -0.26, -0.04, -0.18, 0.11, -0.33, -0.09, -0.47, 0.03, -0.20, -0.13, 0.16, -0.29, -0.06, -0.39, -0.15, 0.06, -0.24, -0.53, -0.01, -0.17,
  -0.07, 0.14, -0.22, 0.25, 0.02, -0.13, 0.31, -0.31, 0.09, -0.04, 0.20, -0.18, 0.06, 0.39, -0.10, 0.13, -0.26, 0.04, 0.27, -0.01,
  0.09, 0.24, -0.07, 0.36, 0.15, 0.01, 0.29, 0.11, -0.16, 0.42, 0.06, 0.19, 0.33, -0.03, 0.14, 0.26, 0.50, 0.08, -0.11, 0.21,
  0.26, 0.07, 0.15, -0.10, 0.34, 0.19, 0.03, 0.47, -0.06, 0.22, 0.11, -0.19, 0.29, 0.05, 0.17, 0.38, -0.01, 0.12, 0.24, -0.13,
  0.07, -0.14, 0.20, -0.06, -0.26, 0.13, 0.02, -0.33, 0.25, -0.10, -0.01, -0.21, 0.16, -0.45, 0.09, -0.05, 0.29, -0.16, 0.04, -0.36,
  -0.14, 0.04, -0.31, -0.07, -0.22, 0.15, -0.40, -0.11, -0.02, -0.28, 0.09, -0.17, -0.49, -0.05, -0.23, 0.02, -0.34, -0.12, 0.18, -0.26,
  -0.04, 0.21, -0.15, 0.07, -0.27, 0.14, 0.34, -0.09, 0.03, -0.20, 0.26, -0.02, 0.11, -0.35, 0.18, 0.05, -0.12, 0.47, -0.06, 0.09,
  0.11, 0.26, 0.03, 0.40, -0.10, 0.18, 0.08, 0.33, 0.14, -0.05, 0.24, 0.49, 0.06, 0.20, -0.17, 0.30, 0.12, 0.38, 0.01, 0.22,
  0.15, 0.31, -0.05, 0.23, 0.09, 0.44, 0.02, 0.19, -0.15, 0.35, 0.12, 0.27, -0.08, 0.20, 0.06, 0.41, 0.13, -0.02, 0.25, 0.08,
];

const UP_EST_A = [
  0.4, -0.6, 0.9, 0.1, -0.3, 0.7, -0.9, -1.8, 1.6, 0.2, -0.5, 1.2, -0.1, 0.5, -0.8, 0.3, -1.4, 0.8, -0.2, 0.6,
  -0.4, 0.9, 0.0, -1.1, 0.5, -0.7, 1.3, 0.2, -0.3, 0.7, -0.9, 0.1, 1.0, -0.6, 0.4, -0.2, 0.8, -1.3, 0.3, -0.5,
  0.6, -0.1, 1.1, -0.8, 0.2, -0.4, 0.9, -1.0, 0.3, 1.4, -0.6, 0.1, -1.2, 0.7, -0.3, 0.5, -1.4, 0.0, 0.8, -2.2,
  0.3, -0.7, 1.2, -0.2, 0.6, -1.0, 0.1, 0.9, -0.5, 1.3, -0.1, 0.4, -0.9, 0.7, -0.3, -2.2, 1.0, -2.1, 0.2, -0.6,
  0.8, -0.4, 1.3, 0.0, -1.1, 0.5, -0.2, 1.0, -0.8, 0.3, 0.7, -0.5, 1.1, -0.1, 0.4, -1.7, 0.9, -0.3, 0.2, -0.9,
  0.6, -0.2, 1.1, -0.5, 0.3, 1.5, 2.8, 2.3, 1.9, 1.4, -1.0, 0.8, -0.4, 0.3, 1.1, -0.6, 0.0, -0.9, 0.5, -0.3,
  0.9, -0.8, 0.2, 1.0, -0.3, 0.6, -1.2, 0.4, -0.1, 0.8, -0.6, 1.2, 0.1, -0.9, 0.5, -0.4, 0.7, -1.1, 0.3, 0.0,
  -0.5, 1.1, 0.2, -0.9, 0.6, -0.2, 1.3, -0.7, 0.4, 0.0, -1.3, 0.9, -0.4, 0.7, -1.0, 0.3, 1.2, -0.6, 0.1, -0.2,
  -2.1, 0.5, -0.8, 1.0, 0.2, -0.3, 1.4, -1.0, 0.6, -0.1, 0.9, -0.7, 0.3, 1.1, -0.5, 0.0, -1.2, 0.8, -0.2, 0.5,
  0.4, -1.1, 0.7, 0.1, -0.6, 1.2, -0.2, 0.5, -0.9, 1.0, 0.3, -0.4, -2.0, 0.8, -0.1, 1.6, -1.0, 1.3, -0.3, 0.2,
  1.1, -0.5, 0.2, -1.4, 0.8, 0.0, -0.7, 1.3, 0.4, -0.3, 0.9, -1.1, 0.1, 0.6, -0.6, 1.0, -0.2, 0.3, -0.9, 0.7,
  -0.1, 0.8, -1.0, 0.4, 1.2, -0.4, 0.1, -0.8, 0.9, -0.2, 0.5, -1.3, 0.3, 1.1, -0.6, 0.0, 0.7, -0.5, 1.4, -0.9,
  0.2, -0.7, 1.0, -0.3, 0.5, -1.1, 0.8, 0.0, -0.5, 1.3, -0.2, 0.6, -0.9, 0.3, 1.0, -1.2, 0.1, 0.7, -0.4, 0.9,
  -0.6, 0.3, 1.2, -0.1, -1.0, 0.6, -0.3, 0.9, 0.1, -0.8, 1.5, -0.4, 0.4, -1.2, 0.8, 0.0, -0.6, 1.1, -0.2, 0.5,
  1.9, -0.5, 0.7, -1.0, 0.2, 1.0, -0.3, 0.5, -0.8, 1.3, 0.0, -0.6, 0.8, -1.4, 0.4, -0.1, 1.1, -0.7, 0.3, -0.4,
  0.6, -0.9, 0.1, 1.0, -0.4, 0.7, -1.2, 0.3, 1.4, -0.2, 0.5, -0.7, 0.9, -0.1, -1.0, 0.6, 0.2, -0.5, 1.2, -0.8,
  0.0, 0.8, -0.6, 1.1, -0.2, 0.4, -1.3, 0.7, -0.4, 0.2, 1.0, -0.9, 0.5, -0.1, 1.3, -0.7, 0.3, -1.1, 0.6, 0.1,
  -0.3, 0.9, -0.8, 0.2, 1.2, -0.5, 0.5, -1.0, 0.1, 0.8, -0.4, 1.5, -0.2, 0.4, -1.4, 0.7, 0.0, -0.6, 1.0, -0.1,
  0.5, -1.1, 0.8, -0.3, 0.3, 1.1, -0.7, 0.0, -1.6, 0.6, -0.2, 0.9, -0.5, 1.2, 0.2, -0.9, 0.4, -0.1, 0.7, -1.2,
  0.9, -0.4, 0.2, 1.3, -0.8, 0.5, -0.1, 1.0, -0.6, 0.3, -1.2, 0.7, 0.0, -0.5, 1.1, -0.2, 0.4, -1.0, 0.8, 0.1,
  -0.7, 0.6, -0.2, 1.0, 0.2, -1.1, 0.8, -0.4, 0.4, 1.4, -0.9, 0.1, -0.3, 0.9, -1.3, 0.5, -0.1, 0.7, -0.6, 1.2,
  0.3, -0.8, 1.1, -0.1, 0.6, -1.5, 0.2, 0.9, -0.4, 0.0, 1.3, -0.7, 0.5, -0.2, 0.8, -1.0, 0.1, 1.2, -0.5, 0.4,
  -0.9, 0.7, 0.0, -0.4, 1.0, -1.2, 0.4, 0.2, -0.7, 1.1, -0.1, 0.6, -1.0, 0.3, 0.9, -0.5, 0.1, -2.2, 0.8, -0.3,
  0.5, -0.6, 1.2, -0.2, 0.3, -1.0, 0.7, 0.1, -0.8, 1.0, -0.3, 0.4, -1.3, 0.9, 0.0, -0.5, 1.4, -0.1, 0.6, -0.9,
  0.2, 1.1, -0.4, 0.6, -1.1, 0.0, 0.8, -0.7, 1.3, -0.2, 0.4, -0.9, 1.0, 0.1, -0.5, 0.7, -1.2, 0.3, 1.2, -0.3,
  0.7, -0.5, 0.1, 1.0, -1.0, 0.4, -0.2, 1.2, -0.6, 0.3, 0.9, -1.4, 0.0, 0.6, -0.3, 1.1, -0.8, 0.2, -0.1, 0.8,
  -0.4, 1.3, -0.9, 0.2, 0.6, -0.6, 1.0, -0.1, -1.2, 0.5, 0.1, -0.7, 1.2, -0.3, 0.8, -1.0, 0.3, 0.0, 1.5, -0.5,
  0.4, -1.1, 0.9, -0.2, 0.2, 1.1, -0.8, 0.5, -0.4, 1.3, 0.0, -1.3, 0.7, -0.1, 0.3, -0.6, 1.0, -0.9, 0.6, 0.1,
  -0.2, 0.8, -0.7, 1.2, 0.1, -1.0, 0.5, -0.3, 0.9, -1.5, 0.3, 0.7, -0.5, 1.0, -0.1, 0.4, -0.9, 1.3, 0.0, -0.6,
  0.9, -0.3, 0.2, -2.1, 0.6, 1.1, -0.8, 0.4, -0.1, 1.0, -1.2, 0.5, 0.0, 0.8, -0.5, 2.1, -0.4, 1.2, -0.9, 0.3,
  -0.6, 1.0, 0.3, -1.1, 0.7, -0.2, 1.4, -0.7, 0.1, 0.6, -0.4, 1.2, -1.3, 0.2, 0.9, -0.1, 0.5, -0.8, 1.1, -0.3,
  0.4, -0.9, 0.8, 0.0, -0.5, 1.3, -1.0, 0.3, 0.7, -0.3, 1.0, -0.6, 0.1, -1.4, 0.6, 1.2, -0.2, 0.5, -0.8, 0.2,
  1.1, -0.4, 0.2, -1.2, 0.9, 0.4, -0.7, 1.0, -0.1, 0.5, -1.0, 0.7, 0.0, 1.4, -0.5, 0.3, -1.1, 0.8, -0.3, 0.6,
  -0.2, 0.9, -0.8, 0.3, 1.2, 2.0, -0.5, 0.6, -1.3, 0.1, -1.9, 0.8, -0.4, 1.0, 0.2, -0.7, 1.3, -0.1, 0.5, -1.0,
  0.7, -0.3, 1.1, 0.0, -0.9, 0.5, 1.4, -0.6, 0.2, -1.2, 0.8, -0.2, 1.0, 0.3, -0.7, 0.6, -1.4, 0.1, 0.9, -0.4,
  0.3, 1.2, -0.5, 0.6, -1.1, 0.0, 0.9, -0.8, 0.4, 1.5, -0.3, 0.7, -1.0, 0.2, 1.0, -0.6, 0.5, -0.2, 1.3, -0.9,
  0.1, -0.7, 0.8, -0.2, 1.1, -1.3, 0.4, 0.7, -0.4, 0.0, 1.2, -0.9, 0.6, -0.1, 0.3, -1.1, 1.0, 0.2, -0.5, 0.8,
  -0.3, 0.6, -1.0, 1.3, 0.1, -0.6, 0.9, -0.2, 0.4, -1.4, 0.7, 1.1, -0.5, 0.2, -0.8, 1.0, 0.0, 0.5, -1.2, 0.3,
  1.0, -0.4, 0.3, -0.9, 1.4, 0.1, -0.6, 0.8, -0.1, 1.1, -1.1, 0.5, 2.0, -0.3, 0.6, -0.8, 0.9, -0.2, 0.4, -1.3,
  0.6, -0.5, -1.8, 1.2, 0.2, -0.7, 0.9, -0.1, 1.0, -1.0, 0.4, 1.3, -0.4, 0.0, 0.7, -1.2, 1.5, 0.3, -0.6, 1.1,
  2.4, 0.2, -0.9, 1.4, -0.3, 0.8, -1.1, 1.6, 0.1, -0.6, 1.0, -0.2, 0.5, -1.3, 0.9, 0.3, -0.7, 1.2, -0.4, 0.6,
];

const UP_EST_B = [
  0.2, -0.4, 0.6, -0.1, 0.3, -0.7, 0.0, 0.5, -0.3, 0.8, -0.5, 0.1, -0.2, 0.4, -0.8, 0.2, 0.7, -0.4, 0.0, -0.6,
  0.5, -0.2, 0.1, -0.6, 0.3, 0.8, -0.3, 0.0, -0.9, 0.4, -0.1, 0.6, -0.5, 0.2, 0.9, -0.2, 0.3, -0.7, 0.1, 0.5,
  -0.3, 0.2, -0.6, 0.4, 0.0, -0.4, 0.7, -0.1, 0.3, -0.8, 0.5, -0.2, 0.1, 0.8, -0.5, 0.0, 0.4, -0.3, 0.6, -0.1,
  0.1, -0.5, 0.3, 0.7, -0.2, 0.5, -0.7, 0.0, 0.4, -0.3, 0.9, -0.1, 0.2, -0.6, 0.6, -0.4, 0.1, 0.3, -0.9, 0.4,
  -0.2, 0.6, -0.4, 0.1, 0.5, -0.1, -0.7, 0.3, 0.0, 0.8, -0.3, 0.4, -0.5, 0.2, -0.1, 0.7, -0.6, 0.0, 0.5, -0.2,
  0.3, -0.1, 0.7, -0.4, 0.2, -0.6, 0.5, 0.0, -0.3, 0.9, -0.5, 0.1, 0.4, -0.2, 0.6, -0.8, 0.2, -0.1, 0.3, 0.8,
  -0.5, 0.1, 0.4, -0.2, 0.7, -0.6, 0.0, 0.3, -0.4, 0.5, -0.1, 0.9, -0.3, 0.2, -0.7, 0.4, 0.1, -0.5, 0.6, -0.2,
  0.4, -0.3, 0.0, 0.6, -0.5, 0.2, -0.1, 0.8, -0.4, 0.1, 0.5, -0.7, 0.3, -0.2, 0.7, 0.0, -0.6, 0.4, -0.1, 0.2,
  -0.1, 0.5, -0.6, 0.2, 0.0, -0.3, 0.6, -0.5, 0.3, 0.9, -0.2, 0.1, -0.8, 0.4, -0.4, 0.7, 0.0, -0.2, 0.5, -0.6,
  0.6, -0.2, 0.3, -0.5, 0.8, 0.1, -0.4, 0.4, -0.1, -0.7, 0.2, 0.6, -0.3, 0.0, 0.5, -0.6, 0.3, -0.2, 0.9, -0.4,
  0.0, 0.4, -0.3, 0.7, -0.6, 0.2, 0.5, -0.2, 0.1, -0.5, 0.8, -0.1, 0.3, -0.7, 0.4, 0.0, -0.4, 0.6, -0.2, 0.2,
  0.3, -0.6, 0.1, 0.5, -0.2, 0.8, -0.4, 0.2, -0.1, 0.6, -0.8, 0.0, 0.4, -0.3, 0.7, -0.5, 0.1, 0.3, -0.2, -0.7,
  -0.4, 0.2, 0.6, -0.1, 0.3, -0.7, 0.1, 0.9, -0.3, 0.4, -0.5, 0.0, 0.5, -0.2, -0.8, 0.3, 0.7, -0.4, 0.1, 0.5,
  0.2, -0.3, 0.4, -0.6, 0.1, 0.7, -0.1, 0.3, -0.5, 0.0, 0.6, -0.2, 0.8, -0.4, 0.2, -0.7, 0.4, 0.0, -0.3, 0.6,
  -0.2, 0.5, -0.5, 0.1, 0.4, -0.8, 0.2, 0.6, -0.1, 0.3, -0.4, 0.9, 0.0, -0.6, 0.5, -0.2, 0.2, -0.5, 0.7, 0.1,
  0.4, -0.1, 0.2, -0.7, 0.6, 0.0, -0.3, 0.5, -0.6, 0.3, 0.1, -0.4, 0.7, -0.2, 0.4, -0.9, 0.2, 0.6, -0.1, -0.4,
  0.1, 0.6, -0.4, 0.3, -0.2, 0.8, -0.6, 0.0, 0.4, -0.3, 0.5, -0.1, -0.7, 0.2, 0.7, -0.5, 0.1, 0.4, -0.2, 0.3,
  -0.6, 0.2, 0.5, -0.3, 0.1, -0.1, 0.7, -0.5, 0.3, 0.9, -0.2, 0.0, 0.4, -0.8, 0.6, -0.3, 0.2, -0.1, 0.5, -0.4,
  0.3, -0.5, 0.0, 0.6, -0.2, 0.4, -0.7, 0.2, 0.8, -0.1, -0.4, 0.5, 0.1, -0.6, 0.3, 0.7, -0.3, 0.0, -0.5, 0.4,
  -0.1, 0.4, -0.6, 0.2, 0.7, -0.3, 0.1, -0.8, 0.5, 0.0, 0.3, -0.2, 0.6, -0.5, 0.2, -0.1, 0.9, -0.4, 0.3, -0.6,
  0.5, -0.3, 0.2, -0.1, 0.6, -0.7, 0.3, 0.0, -0.4, 0.8, -0.2, 0.4, 0.1, -0.6, 0.5, -0.3, 0.0, 0.7, -0.5, 0.2,
  -0.3, 0.1, 0.6, -0.5, 0.2, 0.4, -0.2, 0.7, -0.6, 0.0, 0.3, -0.4, 0.5, -0.1, -0.8, 0.4, 0.2, -0.3, 0.8, -0.1,
  0.2, 0.7, -0.4, 0.0, -0.2, 0.5, -0.6, 0.3, 0.1, -0.3, 0.9, -0.5, 0.2, 0.6, -0.1, -0.7, 0.4, 0.0, -0.4, 0.3,
  -0.5, 0.3, 0.0, 0.5, -0.1, -0.4, 0.8, 0.2, -0.6, 0.4, -0.2, 0.1, 0.6, -0.3, 0.3, -0.8, 0.5, -0.1, 0.2, 0.7,
  0.1, -0.4, 0.4, -0.7, 0.3, 0.0, -0.2, 0.6, -0.5, 0.2, 0.8, -0.1, -0.3, 0.5, -0.6, 0.1, 0.3, -0.2, 0.7, -0.4,
  0.4, 0.0, -0.5, 0.3, -0.2, 0.7, 0.1, -0.6, 0.5, -0.1, 0.2, -0.4, 0.9, -0.3, 0.0, 0.6, -0.7, 0.3, -0.2, 0.4,
  -0.2, 0.6, 0.2, -0.4, 0.0, 0.5, -0.7, 0.3, -0.1, 0.8, -0.5, 0.1, 0.4, -0.3, 0.6, -0.2, 0.1, -0.6, 0.3, 0.0,
  0.5, -0.1, 0.3, -0.6, 0.7, -0.3, 0.1, 0.4, -0.8, 0.2, 0.0, -0.4, 0.6, -0.2, 0.3, 0.8, -0.5, 0.1, -0.1, 0.5,
  -0.4, 0.2, -0.1, 0.6, -0.5, 0.3, 0.8, -0.2, 0.0, -0.7, 0.4, 0.1, -0.3, 0.5, -0.6, 0.2, 0.7, -0.1, 0.3, -0.5,
  0.0, 0.5, -0.3, 0.2, -0.8, 0.4, -0.1, 0.6, 0.1, -0.5, 0.3, -0.2, 0.7, -0.4, 0.2, 0.0, -0.6, 0.5, -0.3, 0.8,
  0.3, -0.6, 0.1, 0.4, -0.2, 0.7, -0.4, 0.0, 0.5, -0.1, -0.7, 0.3, 0.6, -0.3, 0.2, -0.5, 0.9, 0.1, -0.2, 0.4,
  -0.1, 0.3, -0.5, 0.6, 0.0, -0.3, 0.4, -0.6, 0.2, 0.8, -0.2, 0.1, -0.4, 0.5, -0.7, 0.3, 0.0, 0.6, -0.1, -0.5,
  0.4, -0.2, 0.7, -0.4, 0.1, 0.5, -0.1, -0.6, 0.3, 0.0, 0.6, -0.3, 0.2, -0.8, 0.4, -0.1, 0.7, -0.5, 0.2, 0.0,
  -0.3, 0.5, 0.0, -0.6, 0.3, 0.1, -0.2, 0.8, -0.4, 0.4, -0.1, 0.6, -0.5, 0.2, 0.0, -0.3, 0.5, -0.7, 0.3, 0.6,
  0.2, -0.5, 0.4, 0.0, -0.3, 0.7, -0.1, 0.3, -0.6, 0.5, 0.1, -0.4, 0.8, -0.2, 0.2, -0.7, 0.4, 0.0, 0.6, -0.3,
  -0.4, 0.1, 0.5, -0.2, 0.3, -0.6, 0.6, 0.0, -0.3, 0.4, -0.1, 0.9, -0.5, 0.2, -0.2, 0.5, -0.8, 0.3, 0.1, -0.1,
  0.6, -0.3, 0.2, -0.1, 0.5, -0.5, 0.0, 0.7, -0.4, 0.3, -0.7, 0.1, 0.4, -0.2, 0.6, 0.0, -0.6, 0.2, 0.8, -0.4,
  0.1, 0.4, -0.6, 0.3, -0.1, 0.6, -0.3, 0.0, 0.5, -0.5, 0.2, -0.2, 0.7, -0.4, 0.1, 0.3, -0.7, 0.5, -0.1, 0.2,
  -0.2, 0.6, -0.4, 0.1, 0.8, -0.3, 0.3, -0.6, 0.0, 0.4, -0.1, 0.6, -0.5, 0.2, -0.8, 0.5, 0.1, -0.2, 0.3, -0.5,
  0.3, -0.1, 0.5, -0.4, 0.0, 0.7, -0.6, 0.2, 0.4, -0.3, 0.8, -0.2, 0.1, -0.5, 0.6, 0.0, -0.4, 0.3, 0.9, -0.1,
  0.5, -0.4, 0.2, 0.7, -0.2, 0.1, -0.6, 0.4, 0.0, -0.3, 0.6, -0.5, 0.3, -0.1, 0.8, -0.4, 0.2, 0.0, 0.5, -0.2,
];

// ---- true velocities (one row per 100 s period) ----
const EAST_TRUE = [
  0, -0.034, -0.065, -0.089, -0.105, -0.11, -0.105, -0.089, -0.065, -0.034, 0, 0.034, 0.065, 0.089, 0.105, 0.11, 0.105, 0.089, 0.065, 0.034,
  0, -0.034, -0.065, -0.089, -0.105, -0.11, -0.105, -0.089, -0.065, -0.034, 0, 0.034, 0.065, 0.089, 0.105, 0.11, 0.105, 0.089, 0.065, 0.034,
  0, -0.034, -0.065, -0.089, -0.105, -0.11, -0.105, -0.089, -0.065, -0.034, 0, 0.034, 0.065, 0.089, 0.105, 0.11, 0.105, 0.089, 0.065, 0.034,
  0, -0.034, -0.065, -0.089, -0.105, -0.11, -0.105, -0.089, -0.065, -0.034, 0, 0.034, 0.065, 0.089, 0.105, 0.11, 0.105, 0.089, 0.065, 0.034,
  0, -0.034, -0.065, -0.089, -0.105, -0.11, -0.105, -0.089, -0.065, -0.034, 0, 0.034, 0.065, 0.089, 0.105, 0.11, 0.105, 0.089, 0.065, 0.034,
  0, -0.034, -0.065, -0.089, -0.105, -0.11, -0.105, -0.089, -0.065, -0.034, 0, 0.034, 0.065, 0.089, 0.105, 0.11, 0.105, 0.089, 0.065, 0.034,
  0, -0.034, -0.065, -0.089, -0.105, -0.11, -0.105, -0.089, -0.065, -0.034, 0, 0.034, 0.065, 0.089, 0.105, 0.11, 0.105, 0.089, 0.065, 0.034,
  0, -0.034, -0.065, -0.089, -0.105, -0.11, -0.105, -0.089, -0.065, -0.034, 0, 0.034, 0.065, 0.089, 0.105, 0.11, 0.105, 0.089, 0.065, 0.034,
  0, -0.034, -0.065, -0.089, -0.105,
];

const NORTH_TRUE = [
  0.13, 0.124, 0.108, 0.083, 0.051, 0.015, -0.021, -0.053, -0.078, -0.094, -0.1, -0.094, -0.078, -0.053, -0.021, 0.015, 0.051, 0.083, 0.108, 0.124,
  0.13, 0.124, 0.108, 0.083, 0.051, 0.015, -0.021, -0.053, -0.078, -0.094, -0.1, -0.094, -0.078, -0.053, -0.021, 0.015, 0.051, 0.083, 0.108, 0.124,
  0.13, 0.124, 0.108, 0.083, 0.051, 0.015, -0.021, -0.053, -0.078, -0.094, -0.1, -0.094, -0.078, -0.053, -0.021, 0.015, 0.051, 0.083, 0.108, 0.124,
  0.13, 0.124, 0.108, 0.083, 0.051, 0.015, -0.021, -0.053, -0.078, -0.094, -0.1, -0.094, -0.078, -0.053, -0.021, 0.015, 0.051, 0.083, 0.108, 0.124,
  0.13, 0.124, 0.108, 0.083, 0.051, 0.015, -0.021, -0.053, -0.078, -0.094, -0.1, -0.094, -0.078, -0.053, -0.021, 0.015, 0.051, 0.083, 0.108, 0.124,
  0.13, 0.124, 0.108, 0.083, 0.051, 0.015, -0.021, -0.053, -0.078, -0.094, -0.1, -0.094, -0.078, -0.053, -0.021, 0.015, 0.051, 0.083, 0.108, 0.124,
  0.13, 0.124, 0.108, 0.083, 0.051, 0.015, -0.021, -0.053, -0.078, -0.094, -0.1, -0.094, -0.078, -0.053, -0.021, 0.015, 0.051, 0.083, 0.108, 0.124,
  0.13, 0.124, 0.108, 0.083, 0.051, 0.015, -0.021, -0.053, -0.078, -0.094, -0.1, -0.094, -0.078, -0.053, -0.021, 0.015, 0.051, 0.083, 0.108, 0.124,
  0.13, 0.124, 0.108, 0.083, 0.051,
];

const UP_TRUE_TIMES = [0, 820];
const UP_TRUE = [0, 0];

const FONT = "'Liberation Sans', Arial, Helvetica, sans-serif";

function sampled(values: number[], step: number, offset = 0): [number, number][] {
  return values.map((v, i) => [offset + i * step, v]);
}

export default function App() {
  const ref = useRef<HTMLDivElement>(null);

  useEffect(() => {
    if (!ref.current) return;
    const chart = echarts.init(ref.current, undefined, { renderer: "svg" });

    const grids = [
      { left: 96, top: 55, width: 722, height: 164 },
      { left: 96, top: 243, width: 722, height: 175 },
      { left: 96, top: 441, width: 722, height: 171 },
    ];
    const nameGaps = [59, 59, 38];

    const frameColor = "#6a6a6a";
    const gridLine = { color: "#3a3a3a", width: 1, type: [1, 3] as number[] };
    const tick = { inside: true, length: 5, lineStyle: { color: "#555", width: 1 } };
    const axisLine = { show: true, onZero: false, lineStyle: { color: frameColor, width: 1.5 } };

    const xAxis: any[] = [];
    const yAxis: any[] = [];
    grids.forEach((_, g) => {
      xAxis.push({
        gridIndex: g, type: "value", min: 0, max: X_MAX, interval: X_TICK, position: "bottom",
        axisLabel: { show: false }, axisTick: tick, axisLine,
        splitLine: { show: true, showMinLine: false, showMaxLine: false, lineStyle: gridLine },
      });
      xAxis.push({
        gridIndex: g, type: "value", min: 0, max: X_MAX, interval: X_TICK, position: "top",
        axisLabel: { show: false }, axisTick: tick, axisLine, splitLine: { show: false },
      });
      yAxis.push({
        gridIndex: g, type: "value", min: Y_MIN[g], max: Y_MAX[g], interval: Y_STEP[g], position: "left",
        axisLabel: { show: true, fontSize: 24, color: "#000", fontFamily: FONT, margin: 6, lineHeight: 22 },
        axisTick: tick, axisLine,
        splitLine: { show: true, showMinLine: false, showMaxLine: false, lineStyle: gridLine },
        name: PANEL_NAMES[g], nameLocation: "middle", nameGap: nameGaps[g],
        nameTextStyle: { fontSize: 27, fontWeight: "bold", color: "#000", fontFamily: FONT },
      });
      yAxis.push({
        gridIndex: g, type: "value", min: Y_MIN[g], max: Y_MAX[g], interval: Y_STEP[g], position: "right",
        axisLabel: { show: false }, axisTick: tick, axisLine, splitLine: { show: false },
      });
    });

    const estA = [EAST_EST_A, NORTH_EST_A, UP_EST_A];
    const estB = [EAST_EST_B, NORTH_EST_B, UP_EST_B];
    const series: any[] = [];
    estA.forEach((vals, g) => {
      const data = sampled(vals, SAMPLE_STEP_S).concat(
        sampled(estB[g], SAMPLE_STEP_S, STREAM_B_OFFSET_S)
      );
      series.push({
        type: "scatter", name: LEGEND_EST, xAxisIndex: 2 * g, yAxisIndex: 2 * g,
        data, symbol: "diamond", symbolSize: 8,
        itemStyle: { color: "#000", opacity: 1 }, silent: true, z: 2,
      });
    });
    const trueData: [number, number][][] = [
      sampled(EAST_TRUE, TRUE_STEP_S),
      sampled(NORTH_TRUE, TRUE_STEP_S),
      UP_TRUE.map((v, i) => [UP_TRUE_TIMES[i], v] as [number, number]),
    ];
    trueData.forEach((d, g) => {
      series.push({
        type: "line", name: LEGEND_TRUE, xAxisIndex: 2 * g, yAxisIndex: 2 * g,
        data: d, smooth: true, symbol: "none", showSymbol: false,
        lineStyle: { color: "#ff0000", width: 5 }, itemStyle: { color: "#ff0000" },
        silent: true, z: 3,
      });
    });

    chart.setOption({
      animation: false,
      backgroundColor: "#ffffff",
      textStyle: { fontFamily: FONT },
      title: {
        text: TITLE, left: 408, top: 15, padding: 0,
        textStyle: { fontSize: 26, fontWeight: "bold", color: "#000", fontFamily: FONT },
      },
      legend: {
        orient: "vertical", left: 847, top: 57, padding: [7, 3, 5, 10],
        itemWidth: 53, itemHeight: 4, itemGap: 10,
        borderColor: "#333", borderWidth: 1, backgroundColor: "#fff",
        textStyle: { fontSize: 28, color: "#000", fontFamily: FONT },
        data: [
          { name: LEGEND_EST, icon: "circle", itemStyle: { color: "#000" } },
          { name: LEGEND_TRUE, icon: "rect", itemStyle: { color: "#ff0000" } },
        ],
        selectedMode: false,
      },
      grid: grids.map((g) => ({ ...g, show: false })),
      xAxis,
      yAxis,
      series,
    });

    return () => chart.dispose();
  }, []);

  return (
    <div
      ref={ref}
      style={{ position: "absolute", left: 0, top: 0, width: 1150, height: 621 }}
    />
  );
}
